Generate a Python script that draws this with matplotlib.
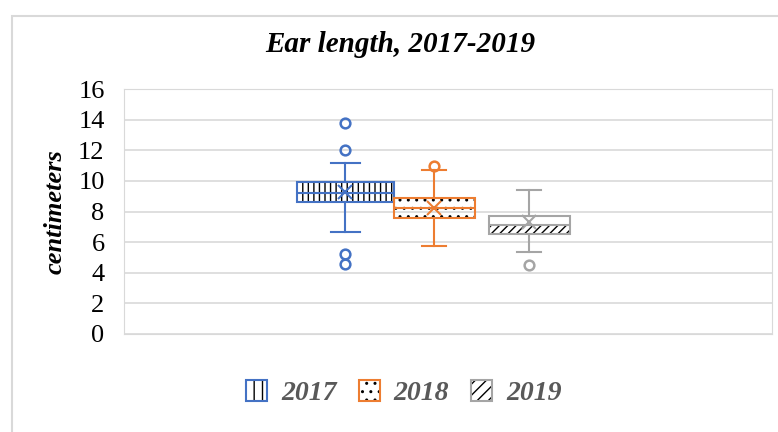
"""Box plot of ear length by year, 2017-2019."""

import matplotlib

matplotlib.use("Agg")
import matplotlib.pyplot as plt
from matplotlib.legend_handler import HandlerTuple
from matplotlib.patches import Patch, Rectangle

years = ["2017", "2018", "2019"]
whisker_low = [6.65, 5.75, 5.35]
q1 = [8.65, 7.6, 6.5]
medians = [9.2, 8.2, 7.1]
q3 = [9.95, 8.9, 7.7]
whisker_high = [11.2, 10.7, 9.4]
means = [9.3, 8.2, 7.3]
outliers = [[13.8, 12.0, 5.2, 4.6], [10.95], [4.5]]

colors = ["#4472C4", "#ED7D31", "#A5A5A5"]
hatches = ["|||", "..", "////"]
legend_hatches = ["||", "..", "///"]
positions = [2.73, 3.83, 5.0]
widths = [1.2, 1.0, 1.0]

serif = ["Liberation Serif", "DejaVu Serif"]

fig = plt.figure(figsize=(7.78, 4.32), dpi=100)
fig.patches.append(
    Rectangle((12 / 778, -0.02), 1.0, 1 - 16 / 432 + 0.02, transform=fig.transFigure,
              fill=False, edgecolor="#D9D9D9", linewidth=1.5)
)
ax = fig.add_axes([124 / 778, 1 - 334 / 432, (772 - 124) / 778, (334 - 89) / 432])

stats = []
for i, year in enumerate(years):
    stats.append({
        "label": year,
        "whislo": whisker_low[i],
        "q1": q1[i],
        "med": medians[i],
        "q3": q3[i],
        "whishi": whisker_high[i],
        "mean": means[i],
        "fliers": outliers[i],
    })

for i, s in enumerate(stats):
    # black hatch layer under the coloured outline (2019 only hatched below the median)
    bottom = s["q1"]
    top = s["q3"] if i < 2 else s["med"]
    ax.bar(positions[i], top - bottom, bottom=bottom, width=widths[i],
           fill=False, hatch=hatches[i], edgecolor="black", linewidth=0, zorder=2)
    c = colors[i]
    ax.bxp([s], positions=[positions[i]], widths=widths[i], showmeans=True,
           patch_artist=True, manage_ticks=False,
           boxprops=dict(facecolor="none", edgecolor=c, linewidth=1.5),
           medianprops=dict(color=c, linewidth=1.5),
           whiskerprops=dict(color=c, linewidth=1.5),
           capprops=dict(color=c, linewidth=1.5),
           capwidths=widths[i] * 0.3,
           meanprops=dict(marker="x", markeredgecolor=c, markersize=10, markeredgewidth=1.5),
           flierprops=dict(marker="o", markerfacecolor="none", markeredgecolor=c,
                           markersize=7, markeredgewidth=1.8))

ax.set_xlim(0, 8)
ax.set_ylim(0, 16)
ax.set_yticks(range(0, 17, 2))
ax.set_xticks([])
ax.grid(axis="y", color="#D9D9D9", linewidth=1.2)
ax.set_axisbelow(True)
for spine in ax.spines.values():
    spine.set_color("#D9D9D9")
ax.tick_params(axis="y", length=0, pad=14, labelsize=19)
for lbl in ax.get_yticklabels():
    lbl.set_family(serif)

ax.set_ylabel("centimeters", family=serif, fontsize=19, fontweight="bold",
              fontstyle="italic", labelpad=8)
fig.text(400 / 778, 1 - 45 / 432, "Ear length, 2017-2019", ha="center", va="center",
         family=serif, fontsize=21, fontweight="bold", fontstyle="italic")

handles = [
    (Patch(fill=False, hatch=legend_hatches[i], edgecolor="black", linewidth=0),
     Patch(facecolor="none", edgecolor=colors[i], linewidth=1.5))
    for i in range(len(years))
]
leg = fig.legend(handles, years, loc="center", bbox_to_anchor=(404 / 778, 1 - 393 / 432),
                 ncol=3, frameon=False, handlelength=0.75, handleheight=0.8,
                 handletextpad=0.5, columnspacing=0.8,
                 handler_map={tuple: HandlerTuple(ndivide=1, pad=0)},
                 prop=dict(family=serif, size=20, weight="bold", style="italic"))
for t in leg.get_texts():
    t.set_color("#595959")

fig.savefig("out.png", dpi=100)
